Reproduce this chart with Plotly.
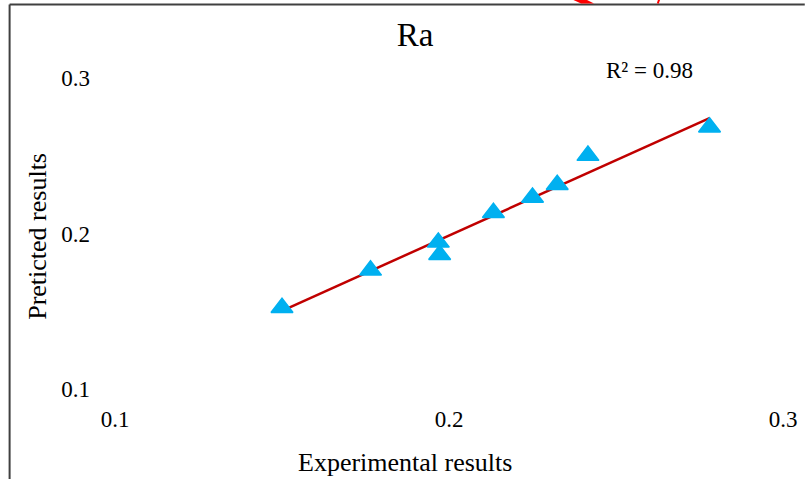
import numpy as np
import plotly.graph_objects as go

experimental = [0.1500, 0.1765, 0.1968, 0.1972, 0.2133, 0.2250, 0.2324, 0.2416, 0.2780]
predicted = [0.1523, 0.1763, 0.1943, 0.1863, 0.2133, 0.2231, 0.2313, 0.2501, 0.2683]
x_ticks = [0.1, 0.2, 0.3]
y_ticks = [0.1, 0.2, 0.3]
r2_text = "R² = 0.98"

# linear trend line
slope, intercept = np.polyfit(experimental, predicted, 1)
tx = [min(experimental), max(experimental)]
ty = [slope * v + intercept for v in tx]

FONT = "Liberation Serif, Times New Roman, serif"

fig = go.Figure()
fig.add_trace(go.Scatter(x=tx, y=ty, mode="lines",
                         line=dict(color="#C00000", width=2.5),
                         showlegend=False, hoverinfo="skip"))
fig.add_trace(go.Scatter(x=experimental, y=predicted, mode="markers",
                         marker=dict(symbol="triangle-up", size=19, color="#00B0F0",
                                     line=dict(color="#00B0F0", width=1.5)),
                         showlegend=False))

L, R, T, B = 115, 19, 78, 90
W, H = 809, 479
pw, ph = W - L - R, H - T - B

def px(x):
    return (x - L) / pw

def py(y):
    return (H - B - y) / ph

shapes = [
    dict(type="line", xref="paper", yref="paper", x0=px(8.5), x1=px(812), y0=py(4.5), y1=py(4.5),
         line=dict(color="#404040", width=2)),
    dict(type="line", xref="paper", yref="paper", x0=px(8.5), x1=px(8.5), y0=py(4.5), y1=py(482),
         line=dict(color="#404040", width=2)),
    dict(type="path", xref="paper", yref="paper",
         path=f"M {px(576)},{py(-1)} L {px(590)},{py(-1)} L {px(599)},{py(3.5)} L {px(586)},{py(3.5)} Z",
         fillcolor="#FF0000", line=dict(width=0)),
    dict(type="line", xref="paper", yref="paper", x0=px(665), x1=px(663.5), y0=py(-1), y1=py(3.5),
         line=dict(color="#FF0000", width=2)),
]

fig.update_layout(
    width=W, height=H,
    margin=dict(l=L, r=R, t=T, b=B),
    paper_bgcolor="white", plot_bgcolor="white",
    font=dict(family=FONT, color="#000000", size=23),
    title=dict(text="Ra", x=415 / W, xanchor="center", y=1 - 34 / H, yanchor="middle",
               font=dict(size=33, family=FONT, color="#000000")),
    xaxis=dict(range=[0.1, 0.3], tickvals=x_ticks, ticktext=[str(v) for v in x_ticks],
               showgrid=False, zeroline=False, showline=False, ticks="",
               ticklabelstandoff=14,
               tickfont=dict(size=23, family=FONT)),
    yaxis=dict(range=[0.1, 0.3], tickvals=y_ticks, ticktext=[str(v) for v in y_ticks],
               showgrid=False, zeroline=False, showline=False, ticks="",
               ticklabelstandoff=24,
               tickfont=dict(size=23, family=FONT)),
    shapes=shapes,
    annotations=[
        dict(text=r2_text, xref="paper", yref="paper", x=px(655), y=py(70),
             xanchor="center", yanchor="middle", showarrow=False,
             font=dict(size=23, family=FONT)),
        dict(text="Experimental results", xref="paper", yref="paper", x=px(408), y=py(462),
             xanchor="center", yanchor="middle", showarrow=False,
             font=dict(size=26, family=FONT)),
        dict(text="Preticted results", xref="paper", yref="paper", x=px(36), y=py(236),
             xanchor="center", yanchor="middle", showarrow=False, textangle=-90,
             font=dict(size=26, family=FONT)),
    ],
)

fig.write_html("out.html", config={"displayModeBar": False},
               post_script="document.body.style.margin='0';")
